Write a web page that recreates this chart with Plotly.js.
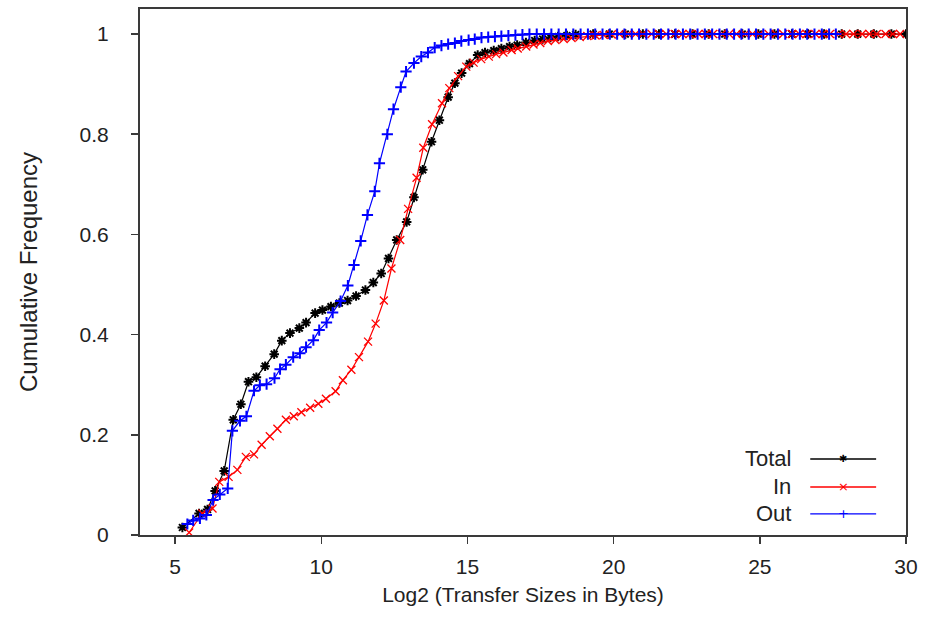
<!DOCTYPE html>
<html>
<head>
<meta charset="utf-8">
<script src="https://cdn.plot.ly/plotly-3.0.1.min.js"></script>
<style>html,body{margin:0;padding:0;background:#fff;}#chart{width:930px;height:623px;}</style>
</head>
<body>
<div id="chart"></div>
<script>
// ---- Data ----
const seriesNames = ["Total", "In", "Out"];
const seriesColors = ["#000000", "#ff0000", "#0000ff"];

const totalX = [5.25,5.82,6.11,6.37,6.68,6.99,7.25,7.51,7.78,8.08,8.39,8.65,8.93,9.25,9.48,9.79,10.04,10.33,10.62,10.9,11.19,11.51,11.78,12.05,12.3,12.58,12.92,13.17,13.47,13.77,14.04,14.34,14.57,14.8,15.07,15.35,15.6,15.9,16.16,16.44,16.7,17.0,17.3,17.57,17.84,18.1,18.4,18.7,19.3,19.85,20.4,21.0,21.55,22.1,22.7,23.25,23.8,24.4,24.95,25.5,26.1,26.65,27.2,27.8,28.35,28.9,29.5,30.0];
const totalY = [0.015,0.043,0.051,0.088,0.128,0.23,0.261,0.306,0.315,0.337,0.361,0.388,0.403,0.413,0.424,0.443,0.449,0.456,0.463,0.468,0.477,0.489,0.504,0.522,0.552,0.589,0.625,0.674,0.729,0.785,0.828,0.874,0.902,0.922,0.941,0.958,0.963,0.967,0.971,0.975,0.978,0.983,0.987,0.99,0.993,0.995,0.997,0.999,1,1,1,1,1,1,1,1,1,1,1,1,1,1,1,1,1,1,1,1];

const inX = [5.48,5.93,6.28,6.51,6.83,7.13,7.42,7.7,7.96,8.24,8.5,8.79,9.06,9.32,9.62,9.9,10.16,10.49,10.74,11.03,11.29,11.6,11.86,12.14,12.4,12.7,12.97,13.26,13.49,13.79,14.13,14.38,14.68,14.96,15.21,15.47,15.73,15.98,16.23,16.51,16.72,17.01,17.26,17.49,17.75,18.01,18.29,18.56,18.84,19.1,19.38,19.66,19.93,20.2,20.5,20.75,21.0,21.3,21.55,21.8,22.1,22.35,22.6,22.9,23.15,23.4,23.7,23.95,24.2,24.5,24.75,25.0,25.3,25.55,25.8,26.1,26.35,26.6,26.9,27.15,27.4,27.7,27.95,28.2,28.5,28.75,29.0,29.3,29.55,29.8,30.0];
const inY = [0.005,0.043,0.053,0.106,0.116,0.13,0.156,0.161,0.18,0.197,0.212,0.23,0.237,0.245,0.254,0.262,0.272,0.287,0.309,0.33,0.355,0.386,0.422,0.468,0.532,0.589,0.651,0.713,0.773,0.82,0.862,0.892,0.916,0.935,0.943,0.95,0.955,0.96,0.963,0.968,0.971,0.975,0.979,0.982,0.986,0.988,0.99,0.992,0.994,0.996,0.997,0.998,0.999,1,1,1,1,1,1,1,1,1,1,1,1,1,1,1,1,1,1,1,1,1,1,1,1,1,1,1,1,1,1,1,1,1,1,1,1,1];

const outX = [5.42,5.62,5.85,6.07,6.3,6.53,6.8,6.96,7.22,7.44,7.7,7.9,8.13,8.4,8.59,8.79,9.04,9.27,9.48,9.73,9.93,10.18,10.39,10.66,10.91,11.12,11.35,11.58,11.83,11.99,12.26,12.47,12.72,12.9,13.17,13.42,13.65,13.88,14.11,14.34,14.57,14.79,15.04,15.25,15.48,15.71,15.94,16.16,16.4,16.64,16.88,17.12,17.37,17.62,17.87,18.12,18.37,18.62,18.87,19.12,19.37,19.62,19.87,20.12,20.37,20.62,20.87,21.12,21.37,21.62,21.87,22.12,22.37,22.62,22.87,23.12,23.37,23.62,23.87,24.12,24.37,24.62,24.87,25.12,25.37,25.62,25.87,26.12,26.37,26.62,26.87,27.12,27.37,27.6];
const outY = [0.022,0.029,0.033,0.04,0.07,0.081,0.093,0.208,0.228,0.237,0.288,0.299,0.301,0.313,0.331,0.34,0.355,0.363,0.375,0.389,0.409,0.424,0.444,0.467,0.498,0.539,0.587,0.639,0.686,0.742,0.8,0.85,0.894,0.925,0.942,0.955,0.963,0.973,0.977,0.98,0.982,0.986,0.988,0.99,0.993,0.994,0.995,0.996,0.997,0.998,0.999,1,1,1,1,1,1,1,1,1,1,1,1,1,1,1,1,1,1,1,1,1,1,1,1,1,1,1,1,1,1,1,1,1,1,1,1,1,1,1,1,1,1,1];

const xTickVals = [5, 10, 15, 20, 25, 30];
const yTickVals = [0, 0.2, 0.4, 0.6, 0.8, 1];
const yTickText = ["0", "0.2", "0.4", "0.6", "0.8", "1"];
const xTitle = "Log2 (Transfer Sizes in Bytes)";
const yTitle = "Cumulative Frequency";

// ---- Chart ----
const FONT = "Liberation Sans, Arial, sans-serif";
const TXT = "#222222";
const AX = "#3a3a3a";

const symbols = ["asterisk-open", "x-thin-open", "cross-thin-open"];
const glyphs = ["\u2731", "\u00d7", "+"];
const xs = [totalX, inX, outX];
const ys = [totalY, inY, outY];

const traces = xs.map((x, i) => ({
  x: x, y: ys[i], type: "scatter", mode: "lines+markers", name: seriesNames[i],
  showlegend: false,
  line: {color: seriesColors[i], width: 1.2},
  marker: {symbol: symbols[i], size: 8, color: seriesColors[i],
           line: {color: seriesColors[i], width: i === 1 ? 1.3 : 2}}
}));

// Legend built by hand (text on the left, sample on the right)
const legRowsY = [0.1445, 0.0913, 0.040];
const shapes = [];
const annotations = [];
seriesNames.forEach((n, i) => {
  shapes.push({type: "line", xref: "paper", yref: "paper", x0: 0.875, x1: 0.961,
               y0: legRowsY[i], y1: legRowsY[i], line: {color: seriesColors[i], width: 1.3}});
  annotations.push({xref: "paper", yref: "paper", x: 0.852, y: legRowsY[i], xanchor: "right",
                    yanchor: "middle", text: n, showarrow: false,
                    font: {family: FONT, size: 22, color: TXT}});
  annotations.push({xref: "paper", yref: "paper", x: 0.918, y: legRowsY[i], xanchor: "center",
                    yanchor: "middle", text: glyphs[i], showarrow: false,
                    font: {family: "DejaVu Sans, sans-serif", size: i === 0 ? 10 : 13, color: seriesColors[i]}});
});

const layout = {
  width: 930, height: 623,
  margin: {l: 140, r: 24, t: 9, b: 88},
  paper_bgcolor: "#ffffff", plot_bgcolor: "#ffffff",
  font: {family: FONT, size: 21, color: TXT},
  xaxis: {
    range: [3.8, 30], tickvals: xTickVals, ticks: "outside", ticklen: 7, tickwidth: 1.5,
    tickcolor: AX, showline: true, linecolor: AX, linewidth: 2, mirror: true,
    showgrid: false, zeroline: false, ticklabelstandoff: 5,
    tickfont: {family: FONT, size: 21, color: TXT},
    title: {text: xTitle, standoff: 10, font: {family: FONT, size: 21, color: TXT}}
  },
  yaxis: {
    range: [0, 1.05], tickvals: yTickVals, ticktext: yTickText, ticks: "outside", ticklen: 7,
    tickwidth: 1.5, tickcolor: AX, showline: true, linecolor: AX, linewidth: 2, mirror: true,
    showgrid: false, zeroline: false, ticklabelstandoff: 18,
    tickfont: {family: FONT, size: 21, color: TXT},
    title: {text: yTitle, standoff: 35, font: {family: FONT, size: 24, color: TXT}}
  },
  shapes: shapes,
  annotations: annotations
};

Plotly.newPlot("chart", traces, layout, {displayModeBar: false, staticPlot: true});
</script>
</body>
</html>
